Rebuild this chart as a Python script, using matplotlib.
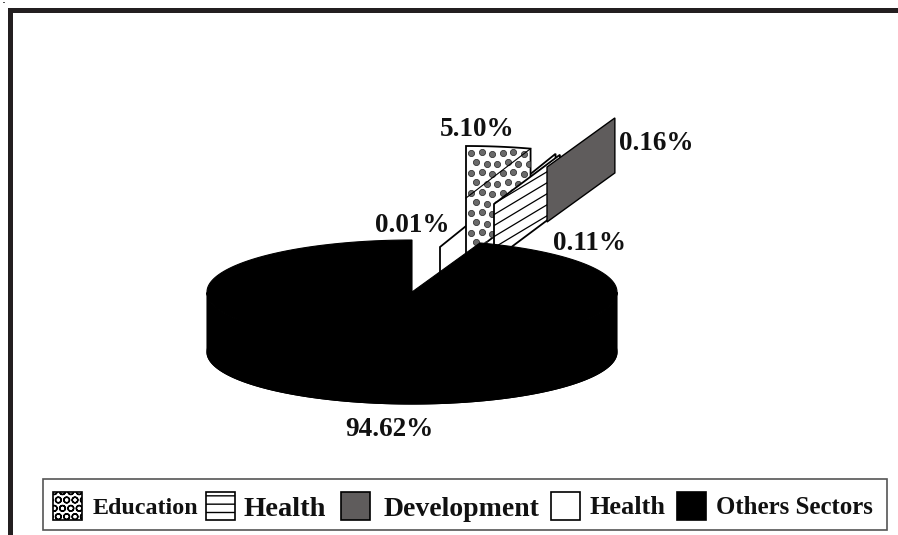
import numpy as np
import matplotlib
matplotlib.use('Agg')
import matplotlib.pyplot as plt
from matplotlib.patches import Polygon, Rectangle

sectors = ['Education', 'Health', 'Development', 'Health', 'Others Sectors']
shares = [5.10, 0.11, 0.16, 0.01, 94.62]
legend_names = ['Education', 'Health', 'Development', 'Health', 'Others Sectors']

plt.rcParams['font.family'] = ['Liberation Serif', 'DejaVu Serif']
plt.rcParams['hatch.linewidth'] = 1.0

fig = plt.figure(figsize=(8.98, 5.35), dpi=100)
ax = fig.add_axes([0, 0, 1, 1])
ax.set_xlim(0, 898)
ax.set_ylim(535, 0)
ax.axis('off')

# pie shape in pixels, angle runs clockwise from 12 o'clock
RX, RY, DEPTH = 205, 52, 60
bounds = np.cumsum([0] + shares) * 3.6


def rim(cx, cy, t, k=1.0, kv=None):
    t = np.radians(t)
    kv = k if kv is None else kv
    return cx + k * RX * np.sin(t), cy - kv * RY * np.cos(t)


def wall(cx, cy, t, k=1.0, kv=None, d=DEPTH):
    x, y = rim(cx, cy, t, k, kv)
    return [(cx, cy), (x, y), (x, y + d), (cx, cy + d)]


def top(cx, cy, t0, t1, k=1.0):
    ts = np.linspace(t0, t1, 200)
    xs, ys = rim(cx, cy, ts, k)
    return [(cx, cy)] + list(zip(xs, ys))


def add(pts, fc, ec='black', lw=1.3, z=2):
    p = Polygon(pts, closed=True, facecolor=fc, edgecolor=ec, linewidth=lw, zorder=z)
    ax.add_patch(p)
    return p


# white Health piece, sits at the very back
add(wall(440, 247, bounds[4], k=1.7, kv=1.9, d=45), 'white', z=2)

# Education, dotted
edu_top = top(466, 198, bounds[0], bounds[1])
edu_wall = wall(466, 198, bounds[1])
edu = add(edu_top[1:] + [edu_wall[2], edu_wall[3]], 'white', z=3)
rows = np.arange(153, 256, 10)
for i, yy in enumerate(rows):
    xx = np.arange(471 + (i % 2) * 5, 530, 10.5)
    dots = ax.scatter(xx, yy + 1.5 * np.sin(xx), s=20, color='#6a6a6a', edgecolors='#222222',
                      linewidths=0.5, zorder=3)
    dots.set_clip_path(edu)
ax.plot([edu_wall[0][0], edu_wall[1][0]], [edu_wall[0][1], edu_wall[1][1]], color='black', lw=0.8, zorder=3)

# Health, slanted lines parallel to the wall
hw = add(wall(494, 204, bounds[2], d=56), 'white', z=4)
for off in np.arange(-60, 120, 11):
    ln, = ax.plot([480, 570], [250 + off, 250 + off - 90 * 0.6], color='black', lw=0.9, zorder=4)
    ln.set_clip_path(hw)

# Development, solid grey
add(wall(547, 167, bounds[3], d=55), '#5f5c5c', lw=1.0, z=5)

# Others, black body
ts = np.linspace(bounds[4], 360, 400)
xs, ys = rim(412, 292, ts)
body_top = top(412, 292, bounds[4], 360)
add(body_top, 'black', lw=0.8, z=6)
add([(x, y + DEPTH) for x, y in body_top], 'black', lw=0.8, z=6)
front = (ts > 90) & (ts < 270)
band = list(zip(xs[front], ys[front])) + list(zip(xs[front][::-1], ys[front][::-1] + DEPTH))
add(band, 'black', lw=0.8, z=6)

# percent labels
label_xy = [(477, 130), (589, 243), (656, 144), (412, 225), (389, 430)]
for v, (x, y) in zip(shares, label_xy):
    ax.text(x, y, '%.2f%%' % v, fontsize=19.5, fontweight='bold', color='#111111',
            ha='center', va='center', zorder=8)

# frame, only top and left are inked
ax.plot([9.5, 9.5, 898], [535, 9.5, 9.5], color='#231f20', lw=3.6, solid_joinstyle='miter', zorder=1)
ax.add_patch(Rectangle((3, 2), 2, 1, fc='#555555', ec='none'))

# legend
ax.add_patch(Rectangle((43, 479), 844, 51, fc='white', ec='#555555', lw=1.2, zorder=1))
swatch_x = [53, 206, 341, 551, 677]
text_x = [93, 244, 384, 590, 716]
text_y = [508, 510, 510, 508, 508]
text_size = [17.3, 20.5, 20, 18.9, 17.9]
swatch_style = [('white', 'OO'), ('white', '--'), ('#5f5c5c', None), ('white', None), ('black', None)]
for name, sx, tx, ty, fs, (fc, h) in zip(legend_names, swatch_x, text_x, text_y, text_size, swatch_style):
    ax.add_patch(Rectangle((sx, 492), 29, 28, fc=fc, ec='black', lw=1.2, hatch=h, zorder=2))
    ax.text(tx, ty, name, fontsize=fs, fontweight='bold', color='#111111', ha='left', va='center', zorder=3)

fig.savefig('out.png', dpi=100)
